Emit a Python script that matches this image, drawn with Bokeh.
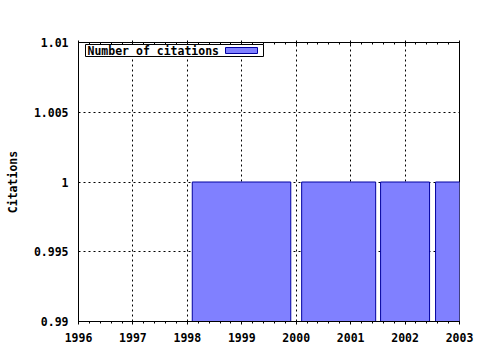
from bokeh.plotting import figure
from bokeh.models import Range1d, LinearAxis, FixedTicker, Grid, Label, BoxAnnotation
from bokeh.embed import file_html
from bokeh.resources import INLINE

# Data
bar_left = [1998.09, 2000.10, 2001.55, 2002.56]
bar_right = [1999.90, 2001.46, 2002.45, 2003.60]
citations = [1, 1, 1, 1]
y_base = 0.99
x_ticks = [1996, 1997, 1998, 1999, 2000, 2001, 2002, 2003]
y_ticks = [0.99, 0.995, 1.0, 1.005, 1.01]
y_tick_labels = {0.99: "0.99", 0.995: "0.995", 1.0: "1", 1.005: "1.005", 1.01: "1.01"}
series_name = "Number of citations"
y_title = "Citations"

FONT = "DejaVu Sans Mono"
FS = "11.5px"
FILL = "#8080ff"
EDGE = "#0000a0"

p = figure(width=480, height=350, output_backend="svg", toolbar_location=None,
           x_range=Range1d(1996, 2003), y_range=Range1d(0.99, 1.01),
           min_border_left=78, min_border_right=21, min_border_top=42,
           min_border_bottom=29, x_axis_location=None, y_axis_location=None)
p.outline_line_color = "black"
p.outline_line_width = 1
p.background_fill_color = "white"
p.border_fill_color = "white"

p.quad(left=bar_left, right=bar_right, top=citations, bottom=y_base,
       fill_color=FILL, line_color=EDGE, line_width=1)

minor = [1996 + i * 0.2 for i in range(36)]

xa = LinearAxis(ticker=FixedTicker(ticks=x_ticks, minor_ticks=minor))
xa.axis_line_color = "black"
xa.major_tick_out = 3
xa.major_tick_in = 0
xa.minor_tick_out = 2
xa.minor_tick_in = 0
xa.major_label_text_font = FONT
xa.major_label_text_font_style = "bold"
xa.major_label_text_font_size = FS
xa.major_label_text_color = "black"
xa.major_label_standoff = 8
p.add_layout(xa, "below")

xt = LinearAxis(ticker=FixedTicker(ticks=x_ticks, minor_ticks=minor))
xt.major_label_overrides = {t: "" for t in x_ticks}
xt.major_label_text_font_size = FS
xt.major_tick_out = 2
xt.major_tick_in = 2
xt.minor_tick_out = 0
xt.minor_tick_in = 2
xt.axis_line_color = "black"
p.add_layout(xt, "above")

ya = LinearAxis(ticker=FixedTicker(ticks=y_ticks))
ya.major_label_overrides = y_tick_labels
ya.major_tick_out = 0
ya.major_tick_in = 0
ya.minor_tick_line_color = None
ya.axis_line_color = "black"
ya.major_label_text_font = FONT
ya.major_label_text_font_style = "bold"
ya.major_label_text_font_size = FS
ya.major_label_text_color = "black"
ya.major_label_standoff = 10
ya.axis_label = y_title
ya.axis_label_text_font = FONT
ya.axis_label_text_font_style = "bold"
ya.axis_label_text_font_size = FS
ya.axis_label_text_color = "black"
ya.axis_label_standoff = 11
p.add_layout(ya, "left")

p.xgrid.visible = False
p.ygrid.visible = False
p.add_layout(Grid(dimension=0, ticker=FixedTicker(ticks=x_ticks),
                  grid_line_color="black", grid_line_dash="2 3", grid_line_width=1))
p.add_layout(Grid(dimension=1, ticker=FixedTicker(ticks=y_ticks),
                  grid_line_color="black", grid_line_dash="2 3", grid_line_width=1))

# Legend (text first, then swatch), in screen units relative to the plot frame
p.add_layout(BoxAnnotation(left=7, right=185, top=277, bottom=265,
                           left_units="screen", right_units="screen",
                           top_units="screen", bottom_units="screen",
                           fill_color="white", fill_alpha=1,
                           line_color="black", line_width=1, line_alpha=1))
p.add_layout(BoxAnnotation(left=147, right=179, top=274, bottom=268,
                           left_units="screen", right_units="screen",
                           top_units="screen", bottom_units="screen",
                           fill_color=FILL, fill_alpha=1,
                           line_color=EDGE, line_width=1, line_alpha=1))
p.add_layout(Label(x=9, y=271, x_units="screen", y_units="screen",
                   text=series_name, text_font=FONT, text_font_style="bold",
                   text_font_size=FS, text_color="black",
                   text_baseline="middle", text_align="left"))

open("out.html", "w").write(file_html(p, INLINE))
